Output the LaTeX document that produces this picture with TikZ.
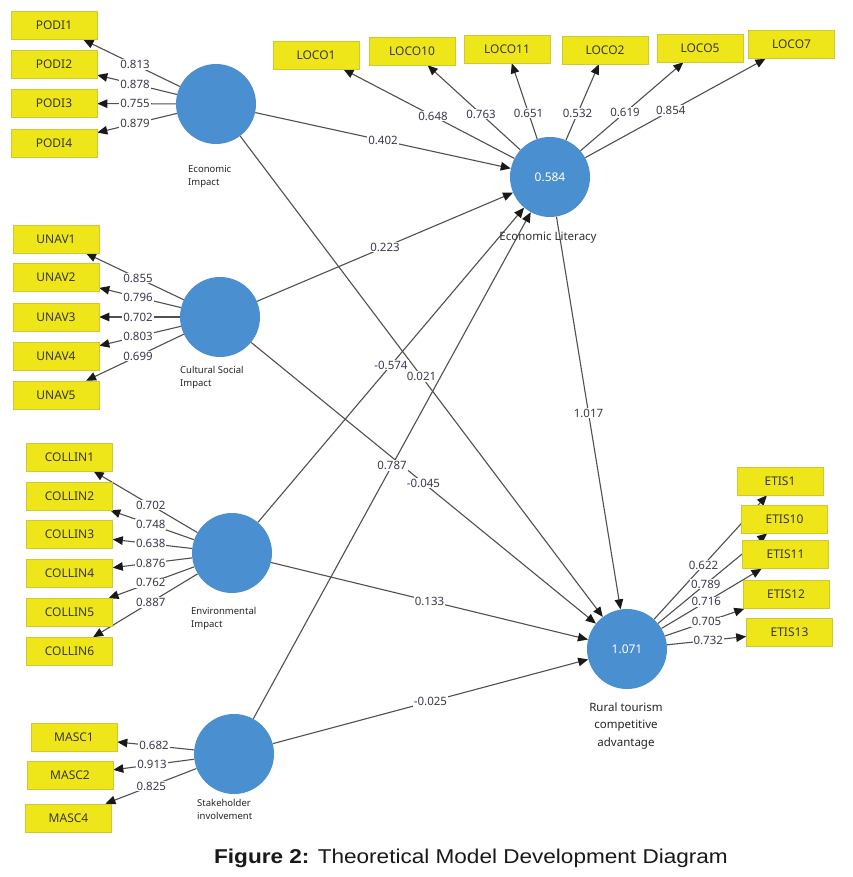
\documentclass[tikz,border=0pt]{standalone}
\usepackage{fontspec}
\setmainfont{Noto Sans}
\newfontfamily\capfont{Liberation Sans}
\usetikzlibrary{arrows.meta,calc}
\definecolor{boxyel}{RGB}{238,230,24}
\definecolor{boxedge}{RGB}{208,200,50}
\definecolor{lvblue}{RGB}{74,144,208}
\definecolor{lineg}{RGB}{80,80,80}
\definecolor{tipc}{RGB}{25,25,25}
\definecolor{valc}{RGB}{58,58,78}
\pgfdeclarelayer{back}
\pgfdeclarelayer{bg}
\pgfsetlayers{back,bg,main}
\newcommand\ldg[3]{%
  \begin{pgfonlayer}{bg}\draw[conn] (#1) -- (#2);\end{pgfonlayer}
  \node[val] at ($(#1)!.5!(#2)$) {#3};}
\begin{document}
\begin{tikzpicture}[x=1pt,y=-1pt,
  ind/.style={rectangle, fill=boxyel, draw=boxedge, line width=0.6pt,
    minimum width=86pt, minimum height=28pt, inner sep=0pt,
    font=\fontsize{12}{14}\selectfont, text=black!78},
  lv/.style={circle, fill=lvblue, draw=none, minimum size=80pt, inner sep=0pt,
    text=white, font=\fontsize{12}{14}\selectfont},
  lvlab/.style={font=\fontsize{9.5}{13.5}\selectfont, align=left, anchor=north west,
    text=black!85, inner sep=0pt},
  conn/.style={draw=lineg, line width=1.1pt, -{Triangle[length=10pt,width=8.5pt,color=tipc]}},
  val/.style={fill=white, inner sep=1pt, font=\fontsize{11.5}{13}\selectfont, text=valc}]
\begin{pgfonlayer}{back}
\fill[white] (0,0) rectangle (852,877);
\end{pgfonlayer}
\useasboundingbox (0,0) rectangle (852,877);

% latent variables
\node[lv] (EI)  at (216,104) {};
\node[lv] (EL)  at (550,177) {0.584};
\node[lv] (CSI) at (220,317) {};
\node[lv] (ENV) at (232,553) {};
\node[lv] (SH)  at (234,754) {};
\node[lv] (RT)  at (627,649) {1.071};

% latent labels
\node[lvlab] (tEI)  at (188,165) {Economic\\Impact};
\node[lvlab] (tCSI) at (180,366) {Cultural Social\\Impact};
\node[lvlab] (tENV) at (191,607) {Environmental\\Impact};
\node[lvlab] (tSH)  at (197,799) {Stakeholder\\involvement};
\node[font=\fontsize{11.5}{13}\selectfont, text=black!80, inner sep=0pt] (tEL) at (548,238) {Economic Literacy};
\node[font=\fontsize{11.5}{17.5}\selectfont, text=black!85, align=center, inner sep=0pt] (tRT) at (626,726) {Rural tourism\\competitive\\advantage};

% indicators
\node[ind] (P1) at (54,25.5) {PODI1};
\node[ind] (P2) at (54,64.5) {PODI2};
\node[ind] (P3) at (54,103.5) {PODI3};
\node[ind] (P4) at (54,143) {PODI4};

\node[ind] (U1) at (56,239) {UNAV1};
\node[ind] (U2) at (56,277.5) {UNAV2};
\node[ind] (U3) at (56,317) {UNAV3};
\node[ind] (U4) at (56,356) {UNAV4};
\node[ind] (U5) at (56,395) {UNAV5};

\node[ind] (C1) at (69.5,457) {COLLIN1};
\node[ind] (C2) at (69.5,496) {COLLIN2};
\node[ind] (C3) at (69.5,534.5) {COLLIN3};
\node[ind] (C4) at (69.5,573) {COLLIN4};
\node[ind] (C5) at (69.5,612.5) {COLLIN5};
\node[ind] (C6) at (69.5,651.5) {COLLIN6};

\node[ind] (M1) at (74,737.5) {MASC1};
\node[ind] (M2) at (70,775.5) {MASC2};
\node[ind] (M4) at (68.5,818) {MASC4};

\node[ind] (L1)  at (316,55) {LOCO1};
\node[ind] (L10) at (412,51) {LOCO10};
\node[ind] (L11) at (507,49) {LOCO11};
\node[ind] (L2)  at (605,50) {LOCO2};
\node[ind] (L5)  at (700,48) {LOCO5};
\node[ind] (L7)  at (791.5,44.5) {LOCO7};

\node[ind] (E1)  at (780,481) {ETIS1};
\node[ind] (E10) at (784.5,519) {ETIS10};
\node[ind] (E11) at (785.5,554.5) {ETIS11};
\node[ind] (E12) at (786,594.5) {ETIS12};
\node[ind] (E13) at (789.5,632) {ETIS13};

% outer loadings
\ldg{EI}{P1}{0.813}
\ldg{EI}{P2}{0.878}
\ldg{EI}{P3}{0.755}
\ldg{EI}{P4}{0.879}

\ldg{CSI}{U1}{0.855}
\ldg{CSI}{U2}{0.796}
\ldg{CSI}{U3}{0.702}
\ldg{CSI}{U4}{0.803}
\ldg{CSI}{U5}{0.699}

\ldg{ENV}{C1}{0.702}
\ldg{ENV}{C2}{0.748}
\ldg{ENV}{C3}{0.638}
\ldg{ENV}{C4}{0.876}
\ldg{ENV}{C5}{0.762}
\ldg{ENV}{C6}{0.887}

\ldg{SH}{M1}{0.682}
\ldg{SH}{M2}{0.913}
\ldg{SH}{M4}{0.825}

\ldg{EL}{L1}{0.648}
\ldg{EL}{L10}{0.763}
\ldg{EL}{L11}{0.651}
\ldg{EL}{L2}{0.532}
\ldg{EL}{L5}{0.619}
\ldg{EL}{L7}{0.854}

\ldg{RT}{E1}{0.622}
\ldg{RT}{E10}{0.789}
\ldg{RT}{E11}{0.716}
\ldg{RT}{E12}{0.705}
\ldg{RT}{E13}{0.732}

% structural paths
\ldg{EI}{EL}{0.402}
\ldg{EI}{RT}{0.021}
\ldg{ENV}{EL}{-0.574}
\ldg{CSI}{EL}{0.223}
\ldg{CSI}{RT}{-0.045}
\ldg{ENV}{RT}{0.133}
\ldg{SH}{EL}{0.787}
\ldg{SH}{RT}{-0.025}
\ldg{EL}{RT}{1.017}

% caption
\node[font=\capfont\fontsize{20}{22}\selectfont, text=black!90, inner sep=0pt] (cap) at (471,858)
  {\scalebox{1.128}[1]{\textbf{Figure 2:} Theoretical Model Development Diagram}};
\end{tikzpicture}
\end{document}
